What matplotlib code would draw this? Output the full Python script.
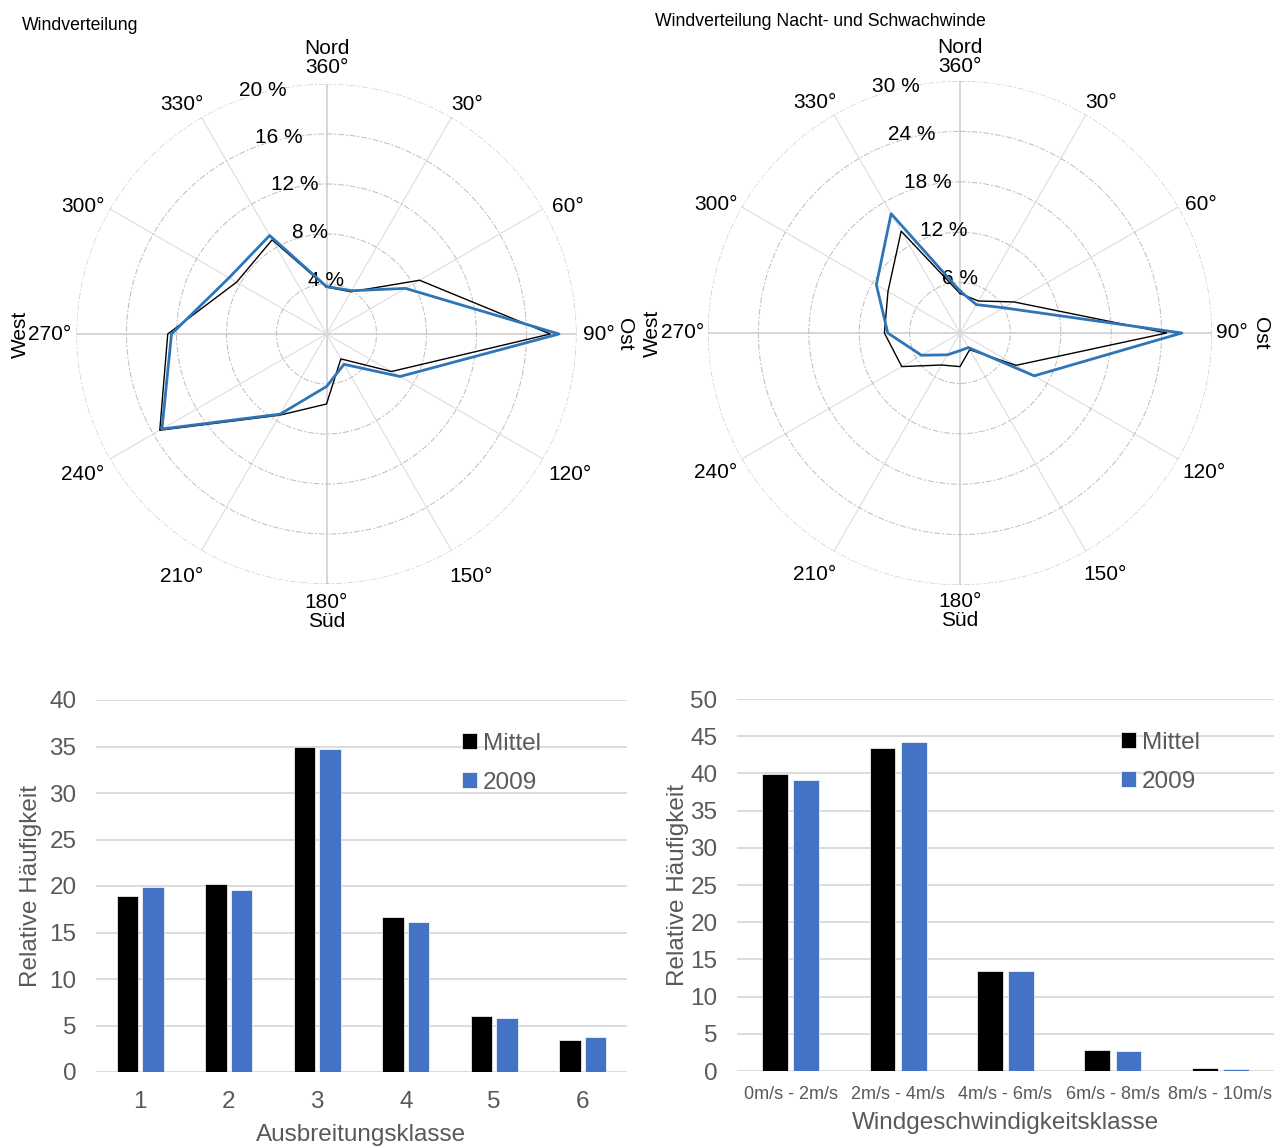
import numpy as np
import matplotlib
matplotlib.use("Agg")
import matplotlib.pyplot as plt

plt.rcParams.update({'font.family': ['Liberation Sans', 'DejaVu Sans']})

# Windrichtungen (Grad) und Häufigkeiten in %
richtung = [0, 30, 60, 90, 120, 150, 180, 210, 240, 270, 300, 330]
wind_mittel = [3.75, 3.9, 8.6, 17.9, 6.0, 2.3, 5.6, 7.5, 15.4, 12.7, 8.3, 8.7]
wind_2009 = [3.8, 4.0, 7.3, 18.6, 6.8, 2.8, 4.2, 7.4, 15.2, 12.4, 9.0, 9.1]
nacht_mittel = [4.7, 4.4, 7.4, 24.6, 7.7, 2.3, 4.0, 4.4, 8.0, 9.0, 9.9, 14.0]
nacht_2009 = [5.0, 3.9, 6.0, 26.4, 10.2, 2.0, 2.1, 3.0, 5.3, 8.6, 11.5, 16.4]
winkel_labels = ["Nord\n360°", "30°", "60°", "90°", "120°", "150°", "180°\nSüd",
                 "210°", "240°", "270°", "300°", "330°"]

# Ausbreitungsklassen
klassen = ["1", "2", "3", "4", "5", "6"]
klassen_mittel = [18.9, 20.25, 34.9, 16.65, 6.05, 3.45]
klassen_2009 = [19.85, 19.6, 34.75, 16.15, 5.8, 3.75]

# Windgeschwindigkeitsklassen
geschw = ["0m/s - 2m/s", "2m/s - 4m/s", "4m/s - 6m/s", "6m/s - 8m/s", "8m/s - 10m/s"]
geschw_mittel = [39.9, 43.4, 13.5, 2.85, 0.45]
geschw_2009 = [39.1, 44.2, 13.5, 2.65, 0.28]

BLUE_LINE = "#2E75B6"
BLUE_BAR = "#4472C4"
GREY_TXT = "#595959"

# Lage der Winkelbeschriftungen (Pixel relativ zur Mitte)
label_offsets = [(0, 276), (141, 230), (241, 128), (272, 0), (244, -140), (145, -242),
                 (0, -278), (-145, -242), (-244, -140), (-277, 0), (-244, 128), (-145, 230)]

fig = plt.figure(figsize=(12.81, 11.48), dpi=100)


def windrose(rect, r_px, mittel, jahr, rmax, rstep, ost_px, west_px):
    ax = fig.add_axes(rect, projection='polar')
    ax.set_theta_zero_location('N')
    ax.set_theta_direction(-1)
    th = np.deg2rad(richtung + [richtung[0]])
    ax.plot(th, mittel + [mittel[0]], color='black', lw=1.0, zorder=3)
    ax.plot(th, jahr + [jahr[0]], color=BLUE_LINE, lw=2.0, zorder=4)
    ax.set_ylim(0, rmax)
    ticks = np.arange(rstep, rmax + 0.1, rstep)
    ax.set_yticks(ticks)
    ax.set_yticklabels([])
    ax.set_xticks(np.deg2rad(richtung))
    ax.set_xticklabels([])
    ax.yaxis.grid(True, color='#bdbdbd', lw=0.7, ls=(0, (6, 2, 2, 2)))
    ax.xaxis.grid(True, color='#d8d8d8', lw=0.7)
    ax.spines['polar'].set_visible(False)
    for a in [0, 90, 180, 270]:
        ax.plot([np.deg2rad(a)] * 2, [0, rmax], color='#d3d3d3', lw=1.3, zorder=1)
    scale = rmax / r_px
    for (dx, dy), lab in zip(label_offsets, winkel_labels):
        ax.annotate(lab, xy=(0, 0), xytext=(dx, dy), textcoords='offset pixels',
                    ha='center', va='center', fontsize=15, linespacing=0.95)
    for i, t in enumerate(ticks):
        ax.annotate(f"{t:.0f} %", xy=(0, t), xytext=(-16 * i, 4 - 2.5 * i),
                    textcoords='offset pixels', ha='center', va='center',
                    fontsize=15)
    ax.text(np.deg2rad(90), ost_px * scale, "Ost", rotation=-90,
            ha='center', va='center', fontsize=15)
    ax.text(np.deg2rad(270), west_px * scale, "West", rotation=90,
            ha='center', va='center', fontsize=15)
    return ax


windrose([76.5 / 1281, 1 - 584 / 1148, 500 / 1281, 500 / 1148], 250,
         wind_mittel, wind_2009, 20, 4, 298, 306)
windrose([708 / 1281, 1 - 585 / 1148, 504 / 1281, 504 / 1148], 252,
         nacht_mittel, nacht_2009, 30, 6, 300, 308)

fig.text(22 / 1281, 1 - 25 / 1148, "Windverteilung", fontsize=12.7, va='center')
fig.text(655 / 1281, 1 - 21 / 1148, "Windverteilung Nacht- und Schwachwinde",
         fontsize=12.7, va='center')


def balken(rect, labels, mittel, jahr, ymax, tick_fs, xlabel, ylab_x, xlab_y, leg_x):
    ax = fig.add_axes(rect)
    x = np.arange(len(labels))
    w = 0.24
    ax.bar(x - 0.145, mittel, w, color='black', edgecolor='white', lw=0.5,
           label='Mittel', zorder=3)
    ax.bar(x + 0.145, jahr, w, color=BLUE_BAR, edgecolor='white', lw=0.5,
           label='2009', zorder=3)
    ax.set_xlim(-0.5, len(labels) - 0.5)
    ax.set_ylim(0, ymax)
    ax.set_yticks(np.arange(0, ymax + 1, 5))
    ax.set_xticks(x)
    ax.set_xticklabels(labels)
    ax.grid(axis='y', color='#d9d9d9', lw=1.3, zorder=0)
    for s in ax.spines.values():
        s.set_visible(False)
    ax.tick_params(axis='y', length=0, pad=14, labelsize=17.5, labelcolor=GREY_TXT)
    ax.tick_params(axis='x', length=0, pad=tick_fs[1], labelsize=tick_fs[0],
                   labelcolor=GREY_TXT)
    ax.set_ylabel("Relative Häufigkeit", fontsize=17.5, color=GREY_TXT)
    ax.yaxis.set_label_coords(ylab_x, 0.5)
    ax.set_xlabel(xlabel, fontsize=17.5, color=GREY_TXT)
    ax.xaxis.set_label_coords(0.5, xlab_y)
    leg = ax.legend(loc='upper left', bbox_to_anchor=(leg_x, 0.912), frameon=False,
                    fontsize=17.5, handlelength=0.6, handleheight=0.6,
                    handletextpad=0.25, labelspacing=0.7, borderpad=0,
                    borderaxespad=0)
    for t in leg.get_texts():
        t.set_color(GREY_TXT)
    return ax


balken([96 / 1281, 76 / 1148, 531 / 1281, 372 / 1148], klassen, klassen_mittel,
       klassen_2009, 40, (17.5, 14), "Ausbreitungsklasse", -0.102, -0.14, 0.69)
balken([737 / 1281, 77 / 1148, 537 / 1281, 372 / 1148], geschw, geschw_mittel,
       geschw_2009, 50, (13, 11), "Windgeschwindigkeitsklasse", -0.089, -0.11, 0.716)

fig.savefig("out.png", dpi=100)
